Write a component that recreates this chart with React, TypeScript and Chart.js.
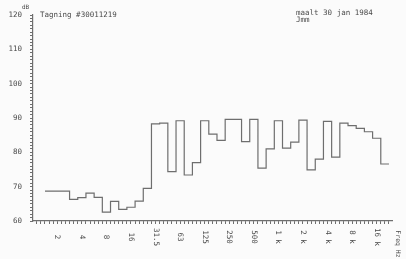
import React, { useEffect, useRef } from "react";
import { Chart, registerables } from "chart.js";
Chart.register(...registerables);

// Third-octave band centre frequencies (Hz)
const bands = ["1.6","2","2.5","3.15","4","5","6.3","8","10","12.5","16","20","25","31.5","40","50","63","80","100","125","160","200","250","315","400","500","630","800","1k","1.25k","1.6k","2k","2.5k","3.15k","4k","5k","6.3k","8k","10k","12.5k","16k","20k"];
// Level per band (dB)
const levels = [68.7,68.7,68.7,66.3,66.8,68.1,66.9,62.6,65.7,63.4,64.0,65.8,69.5,88.3,88.5,74.4,89.2,73.4,77.0,89.2,85.3,83.5,89.6,89.6,83.1,89.6,75.4,81.0,89.2,81.2,83.0,89.4,74.9,78.0,89.0,78.6,88.5,87.8,87.0,86.0,84.1,76.6];
// Octave tick labels and the band they sit on
const octaveBands = ["2","4","8","16","31.5","63","125","250","500","1k","2k","4k","8k","16k"];
const octaveLabels = ["2","4","8","16","31.5","63","125","250","500","1 k","2 k","4 k","8 k","16 k"];
const yMin = 60;
const yMax = 120;
const titleText = "Tagning #30011219";
const dateText = "maalt 30 jan 1984";
const dateText2 = "Jmm";
const unitText = "dB";
const axisText = "Freq Hz";

const FONT = '"DejaVu Sans Mono", monospace';
const TEXT_COLOR = "#4a4a4a";
const LINE_COLOR = "#6e6e6e";

export default function App() {
  const ref = useRef<HTMLCanvasElement | null>(null);
  useEffect(() => {
    document.body.style.margin = "0";
    const canvas = ref.current!;
    const points = levels.map((v, i) => ({ x: i, y: v }));
    points.push({ x: levels.length, y: levels[levels.length - 1] });

    const textPlugin = {
      id: "texts",
      afterDraw(chart: any) {
        const ctx = chart.ctx as CanvasRenderingContext2D;
        const xs = chart.scales.x;
        ctx.save();
        ctx.fillStyle = TEXT_COLOR;
        ctx.font = `7.5px ${FONT}`;
        octaveLabels.forEach((lab, k) => {
          const px = xs.getPixelForValue(bands.indexOf(octaveBands[k]) + 0.5);
          ctx.save();
          ctx.translate(px, 237);
          ctx.rotate(Math.PI / 2);
          ctx.textAlign = "center";
          ctx.textBaseline = "middle";
          ctx.fillText(lab, 0, 0);
          ctx.restore();
        });
        ctx.save();
        ctx.font = `6.5px ${FONT}`;
        ctx.translate(398, 244);
        ctx.rotate(Math.PI / 2);
        ctx.textAlign = "center";
        ctx.textBaseline = "middle";
        ctx.fillText(axisText, 0, 0);
        ctx.restore();

        ctx.textAlign = "left";
        ctx.textBaseline = "middle";
        ctx.font = `7.5px ${FONT}`;
        ctx.fillText(titleText, 40, 15);
        ctx.font = `7.5px ${FONT}`;
        ctx.fillText(dateText, 296, 13);
        ctx.fillText(dateText2, 296, 20);
        ctx.font = `6px ${FONT}`;
        ctx.fillText(unitText, 22, 7);
        ctx.restore();
      },
    };

    const chart = new Chart(canvas, {
      type: "line",
      data: {
        datasets: [
          {
            data: points,
            stepped: "before",
            borderColor: LINE_COLOR,
            borderWidth: 1.2,
            pointRadius: 0,
            fill: false,
          },
        ],
      },
      options: {
        animation: false,
        responsive: false,
        devicePixelRatio: 1,
        layout: { padding: { top: 15, right: 14, left: 0, bottom: 0 } },
        plugins: { legend: { display: false }, tooltip: { enabled: false }, title: { display: false } },
        scales: {
          x: {
            type: "linear",
            min: -1.465,
            max: 42.37,
            afterBuildTicks: (s: any) => {
              const t = [];
              for (let v = -1; v <= levels.length; v += 0.5) t.push({ value: v });
              s.ticks = t;
            },
            afterFit: (s: any) => {
              s.height = 38;
            },
            ticks: { display: false },
            grid: { drawOnChartArea: false, drawTicks: true, tickLength: 3, color: LINE_COLOR, lineWidth: 1 },
            border: { color: LINE_COLOR, width: 1.2 },
          },
          y: {
            type: "linear",
            min: yMin,
            max: yMax,
            afterFit: (s: any) => {
              s.width = 33;
            },
            ticks: {
              stepSize: 1,
              autoSkip: false,
              padding: 8,
              color: TEXT_COLOR,
              font: { family: FONT, size: 7.5 },
              callback: (v: any) => (Number(v) % 10 === 0 ? String(v) : ""),
            },
            grid: { drawOnChartArea: false, drawTicks: true, tickLength: 3, color: LINE_COLOR, lineWidth: 1 },
            border: { color: LINE_COLOR, width: 1.2 },
          },
        },
      },
      plugins: [textPlugin],
    });
    return () => chart.destroy();
  }, []);

  return (
    <div style={{ position: "fixed", left: 0, top: 0, width: 406, height: 259, background: "#fbfbfb" }}>
      <canvas ref={ref} width={406} height={259} style={{ width: 406, height: 259, display: "block" }} />
    </div>
  );
}
